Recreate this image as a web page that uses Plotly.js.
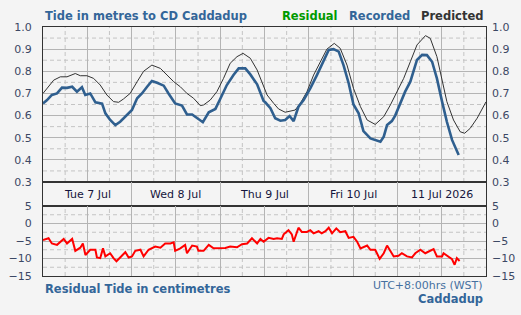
<!DOCTYPE html>
<html>
<head>
<meta charset="utf-8">
<script src="https://cdn.plot.ly/plotly-3.0.1.min.js"></script>
<style>html,body{margin:0;padding:0;background:#f4f4f4;}#chart{width:521px;height:315px;}</style>
</head>
<body>
<div id="chart"></div>
<script>
// ---- data (hours after 2026-07-07 00:00 local, WST) ----
const startDate = [2026, 6, 7];

const predictedHours = [0, 2.9, 4.7, 6.5, 8.75, 10.1, 11.9, 13.7, 15.5, 17.3, 19.1, 20.5, 21.8, 23.6,
  25.5, 27.25, 29.5, 31.8, 33.6, 35.4, 37.2, 39.0, 40.8, 42.6, 43.5, 45.3, 47.1, 48.9, 50.7, 52.55,
  54.2, 56.15, 58.0, 59.75, 60.7, 62.5, 63.8, 65.6, 67.0, 68.3, 69.7, 71.5, 73.3, 75.1, 76.9, 78.9,
  80.5, 82.35, 84.1, 86.0, 87.8, 90.0, 92.3, 94.1, 95.9, 97.7, 99.5, 101.3, 103.6, 104.9, 106.7,
  108.1, 109.4, 111.2, 113.0, 114.2, 115.7, 117.6, 120.0];
const predictedMetres = [0.700, 0.760, 0.775, 0.775, 0.790, 0.780, 0.780, 0.768, 0.738, 0.693, 0.663, 0.660, 0.675, 0.700,
  0.753, 0.800, 0.828, 0.813, 0.783, 0.753, 0.730, 0.700, 0.678, 0.645, 0.648, 0.670, 0.708, 0.768, 0.836, 0.866,
  0.881, 0.859, 0.806, 0.730, 0.693, 0.655, 0.630, 0.615, 0.620, 0.625, 0.655, 0.708, 0.783, 0.843, 0.900, 0.926,
  0.904, 0.828, 0.723, 0.640, 0.580, 0.560, 0.595, 0.648, 0.708, 0.768, 0.843, 0.919, 0.961, 0.949, 0.866,
  0.768, 0.663, 0.580, 0.527, 0.520, 0.542, 0.588, 0.662];

const recordedHours = [0, 1.1, 2.4, 3.8, 5.15, 6.5, 7.9, 9.2, 10.55, 11.45, 12.8, 14.2, 16.0, 16.9, 18.2,
  19.6, 20.9, 22.75, 24.1, 25.5, 26.8, 28.2, 29.5, 30.9, 32.7, 34.0, 35.8, 37.65, 39.0, 40.4, 41.7,
  43.3, 44.9, 46.7, 48.0, 49.8, 51.6, 53.0, 54.8, 56.15, 58.0, 59.75, 60.2, 61.6, 62.9, 64.3, 65.6,
  66.8, 67.9, 69.2, 70.6, 72.4, 74.2, 76.0, 77.4, 78.7, 80.1, 81.4, 82.8, 84.1, 85.5, 86.8, 88.7,
  91.4, 92.3, 93.2, 94.5, 95.4, 96.8, 98.1, 99.5, 100.4, 101.3, 102.7, 104.0, 105.4, 106.7, 108.1,
  109.4, 110.8, 112.6];
const recordedMetres = [0.655, 0.670, 0.693, 0.700, 0.726, 0.725, 0.730, 0.708, 0.728, 0.693, 0.700, 0.660, 0.654, 0.610, 0.580,
  0.557, 0.572, 0.605, 0.625, 0.678, 0.700, 0.730, 0.756, 0.748, 0.735, 0.700, 0.655, 0.645, 0.605, 0.605, 0.590,
  0.570, 0.615, 0.630, 0.675, 0.738, 0.783, 0.813, 0.813, 0.786, 0.741, 0.666, 0.660, 0.633, 0.588, 0.577, 0.580,
  0.598, 0.575, 0.640, 0.670, 0.723, 0.783, 0.843, 0.896, 0.900, 0.889, 0.828, 0.746, 0.650, 0.610, 0.530, 0.497,
  0.482, 0.505, 0.557, 0.575, 0.600, 0.655, 0.708, 0.753, 0.800, 0.851, 0.874, 0.873, 0.843, 0.768, 0.663,
  0.572, 0.490, 0.422];

const residualHours = [0, 1.5, 2.4, 3.8, 5.6, 6.5, 7.9, 8.75, 10.1, 10.8, 11.5, 12.8, 14.2, 14.6, 15.5, 16.25,
  16.9, 18.2, 19.1, 19.9, 20.9, 22.3, 23.2, 24.1, 25.0, 26.4, 27.25, 28.6, 30.4, 31.8, 33.1, 34.5, 35.4,
  35.8, 37.2, 38.5, 39.0, 40.4, 41.7, 42.1, 43.5, 44.9, 46.2, 47.6, 49.4, 50.7, 52.55, 53.9, 55.3, 56.6,
  58.0, 58.9, 59.75, 61.1, 62.5, 63.4, 64.7, 65.2, 66.5, 67.4, 67.9, 69.2, 70.1, 71.5, 72.4, 73.3, 74.65,
  75.5, 76.5, 77.4, 78.3, 79.45, 80.5, 81.9, 82.8, 84.1, 85.1, 86.0, 87.8, 88.7, 90.0, 91.2, 92.3, 93.2,
  94.1, 95.0, 96.3, 97.2, 98.6, 99.95, 100.85, 102.2, 103.55, 104.45, 105.8, 106.7, 108.1, 108.5, 109.9,
  110.8, 111.5, 112.1, 112.85];
const residualCm = [-4.7, -4.2, -5.7, -6.1, -4.4, -5.7, -4.4, -7.8, -6.9, -5.7, -9.0, -7.5, -7.5, -9.7, -9.9, -7.1,
  -9.4, -8.5, -9.9, -10.8, -9.7, -8.2, -9.7, -9.4, -7.8, -7.5, -9.4, -7.5, -6.6, -6.9, -5.7, -5.7, -5.4,
  -7.8, -7.1, -6.1, -8.5, -6.3, -6.6, -7.8, -7.8, -6.1, -7.1, -7.1, -7.0, -6.6, -6.8, -5.9, -5.7, -4.2,
  -5.7, -4.4, -5.2, -4.1, -4.4, -4.2, -4.4, -3.1, -1.9, -3.1, -5.2, -1.2, -2.4, -2.4, -1.9, -2.8, -2.2,
  -2.8, -2.2, -1.2, -2.8, -1.4, -2.5, -2.2, -4.1, -3.8, -5.2, -7.1, -6.3, -7.5, -7.5, -10.1, -8.5, -6.3,
  -8.0, -9.4, -9.2, -8.5, -9.4, -9.7, -8.5, -7.5, -8.5, -8.0, -7.3, -9.4, -9.4, -8.5, -9.4,
  -10.2, -11.8, -9.9, -10.7];

const dayLabels = ['Tue 7 Jul', 'Wed 8 Jul', 'Thu 9 Jul', 'Fri 10 Jul', '11 Jul 2026'];
const dayNoonHours = [12, 36, 60, 84, 108];
const xRangeHours = [0, 120];
// dashed (minor) gridline positions
const minorGridHours = [6, 18, 30, 42, 54, 66, 78, 90, 102, 114];
const minorGridTide = [0.35, 0.45, 0.55, 0.65, 0.75, 0.85, 0.95];
const minorGridResidual = [-12.5, -7.5, -2.5, 2.5];

// ---- helpers ----
function toDate(h) {
  const ms = Date.UTC(startDate[0], startDate[1], startDate[2]) + h * 3600000;
  return new Date(ms).toISOString().replace('T', ' ').slice(0, 19);
}
const toDates = a => a.map(toDate);

const BLUE = '#2f5f8f';
const TITLEBLUE = '#336699';
const TICKCOL = '#3c4864';
const FONT = 'DejaVu Sans, Verdana, sans-serif';
const H12 = 43200000, D1 = 86400000;
const xr = xRangeHours.map(toDate);
const GRID = '#b4b4b4', MINOR = '#c4c4c4';
const DASH = '4px,3px';

const traces = [
  {x: toDates(predictedHours), y: predictedMetres, type: 'scatter', mode: 'lines',
   line: {color: '#333333', width: 1}, xaxis: 'x', yaxis: 'y', hoverinfo: 'skip'},
  {x: toDates(recordedHours), y: recordedMetres, type: 'scatter', mode: 'lines',
   line: {color: BLUE, width: 2.6}, xaxis: 'x', yaxis: 'y', hoverinfo: 'skip'},
  {x: toDates(residualHours), y: residualCm, type: 'scatter', mode: 'lines',
   line: {color: '#ff0000', width: 2}, xaxis: 'x3', yaxis: 'y3', hoverinfo: 'skip'},
  {x: [], y: [], type: 'scatter', xaxis: 'x2', yaxis: 'y2'},
  {x: [], y: [], type: 'scatter', xaxis: 'x', yaxis: 'y4'},
  {x: [], y: [], type: 'scatter', xaxis: 'x3', yaxis: 'y5'}
];

const gridX = {
  type: 'date', range: xr, showticklabels: false, ticks: '',
  tickmode: 'linear', tick0: toDate(0), dtick: H12, showgrid: true, gridcolor: GRID, gridwidth: 1,
  showline: true, linecolor: '#333333', linewidth: 1, mirror: true, zeroline: false, fixedrange: true
};
const tickFont = {family: FONT, size: 11, color: TICKCOL};
const dTop = [0.3775, 1], dBand = [0.2811, 0.3775], dBot = [0, 0.2811];

// dashed grid as shapes (below traces)
const shapes = [];
const dashLine = {color: MINOR, width: 1, dash: DASH};
[['x', 'y'], ['x3', 'y3']].forEach(([xa, ya]) => {
  minorGridHours.forEach(h => shapes.push({type: 'line', layer: 'below', xref: xa, yref: ya + ' domain',
    x0: toDate(h), x1: toDate(h), y0: 0, y1: 1, line: dashLine}));
});
minorGridTide.forEach(v => shapes.push({type: 'line', layer: 'below', xref: 'x domain', yref: 'y',
  x0: 0, x1: 1, y0: v, y1: v, line: dashLine}));
minorGridResidual.forEach(v => shapes.push({type: 'line', layer: 'below', xref: 'x3 domain', yref: 'y3',
  x0: 0, x1: 1, y0: v, y1: v, line: dashLine}));

const layout = {
  width: 521, height: 315,
  margin: {l: 43, r: 35, t: 27, b: 39, pad: 0},
  paper_bgcolor: '#f4f4f4', plot_bgcolor: '#f4f4f4',
  showlegend: false,
  font: {family: FONT, size: 11, color: TICKCOL},
  xaxis: Object.assign({}, gridX, {domain: [0, 1], anchor: 'y'}),
  yaxis: {domain: dTop, anchor: 'x', range: [0.3, 1.0], tickmode: 'linear', tick0: 0.3, dtick: 0.1, tickformat: '.1f',
    showgrid: true, gridcolor: GRID, ticks: '', ticklabelstandoff: 8, tickfont: tickFont,
    showline: true, linecolor: '#333333', mirror: true, zeroline: false, fixedrange: true},
  yaxis4: {overlaying: 'y', side: 'right', anchor: 'x', range: [0.3, 1.0], tickmode: 'linear', tick0: 0.3, dtick: 0.1, tickformat: '.1f',
    showgrid: false, ticks: '', ticklabelstandoff: 5, tickfont: tickFont, showline: false, zeroline: false, fixedrange: true},
  xaxis2: {type: 'date', range: xr, anchor: 'y2', domain: [0, 1], showticklabels: false, ticks: '',
    tickmode: 'linear', tick0: toDate(0), dtick: D1, showgrid: true, gridcolor: GRID,
    showline: true, linecolor: '#333333', mirror: true, zeroline: false, fixedrange: true},
  yaxis2: {domain: dBand, anchor: 'x2', range: [0, 1], showticklabels: false, ticks: '', showgrid: false,
    showline: true, linecolor: '#333333', mirror: true, zeroline: false, fixedrange: true},
  xaxis3: Object.assign({}, gridX, {domain: [0, 1], anchor: 'y3'}),
  yaxis3: {domain: dBot, anchor: 'x3', range: [-15, 5], tickmode: 'linear', tick0: -15, dtick: 5,
    showgrid: true, gridcolor: GRID, ticks: '', ticklabelstandoff: 8, tickfont: tickFont,
    showline: true, linecolor: '#333333', mirror: true, zeroline: false, fixedrange: true},
  yaxis5: {overlaying: 'y3', side: 'right', anchor: 'x3', range: [-15, 5], tickmode: 'linear', tick0: -15, dtick: 5,
    showgrid: false, ticks: '', ticklabelstandoff: 5, tickfont: tickFont, showline: false, zeroline: false, fixedrange: true},
  shapes: shapes,
  annotations: [
    {text: '<b>Tide in metres to CD Caddadup</b>', xref: 'paper', yref: 'paper', x: 0, y: 1.044,
     xanchor: 'left', yanchor: 'middle', showarrow: false, font: {family: FONT, size: 11.5, color: TITLEBLUE}},
    {text: '<b>Residual</b>', xref: 'paper', yref: 'paper', x: 0.671, y: 1.044,
     xanchor: 'right', yanchor: 'middle', showarrow: false, font: {family: FONT, size: 11.5, color: '#009a00'}},
    {text: '<b>Recorded</b>', xref: 'paper', yref: 'paper', x: 0.834, y: 1.044,
     xanchor: 'right', yanchor: 'middle', showarrow: false, font: {family: FONT, size: 11.5, color: TITLEBLUE}},
    {text: '<b>Predicted</b>', xref: 'paper', yref: 'paper', x: 0.997, y: 1.044,
     xanchor: 'right', yanchor: 'middle', showarrow: false, font: {family: FONT, size: 11.5, color: '#333333'}},
    {text: '<b>Residual Tide in centimetres</b>', xref: 'paper', yref: 'paper', x: 0, y: -0.054,
     xanchor: 'left', yanchor: 'middle', showarrow: false, font: {family: FONT, size: 11.5, color: TITLEBLUE}},
    {text: 'UTC+8:00hrs (WST)', xref: 'paper', yref: 'paper', x: 0.997, y: -0.040,
     xanchor: 'right', yanchor: 'middle', showarrow: false, font: {family: FONT, size: 11, color: '#4670a0'}},
    {text: '<b>Caddadup</b>', xref: 'paper', yref: 'paper', x: 0.997, y: -0.094,
     xanchor: 'right', yanchor: 'middle', showarrow: false, font: {family: FONT, size: 11.5, color: TITLEBLUE}}
  ].concat(dayLabels.map((t, i) => ({
    text: t, xref: 'x2', yref: 'y2', x: toDate(dayNoonHours[i]), y: 0.5,
    xanchor: 'center', yanchor: 'middle', showarrow: false,
    font: {family: FONT, size: 11, color: '#14143c'}
  })))
};

Plotly.newPlot('chart', traces, layout, {displayModeBar: false, staticPlot: true});
</script>
</body>
</html>
